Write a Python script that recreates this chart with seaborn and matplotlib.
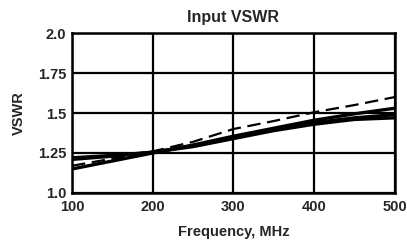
"""Input VSWR vs frequency"""
import numpy as np
import pandas as pd
import matplotlib
matplotlib.use("Agg")
import matplotlib.pyplot as plt
import seaborn as sns

freq = [100, 150, 200, 250, 300, 350, 400, 450, 500]
vswr_a = [1.22, 1.235, 1.255, 1.29, 1.34, 1.39, 1.43, 1.46, 1.47]
vswr_b = [1.21, 1.23, 1.255, 1.295, 1.345, 1.395, 1.44, 1.47, 1.49]
vswr_c = [1.15, 1.20, 1.25, 1.30, 1.355, 1.405, 1.455, 1.495, 1.53]
vswr_dash = [1.17, 1.215, 1.26, 1.32, 1.40, 1.45, 1.505, 1.55, 1.60]

sns.set_style("white")
plt.rcParams["font.family"] = ["Liberation Sans", "DejaVu Sans"]
plt.rcParams["font.weight"] = "bold"

fig = plt.figure(figsize=(4.07, 2.40), dpi=100)
ax = fig.add_axes([0.177, 0.196, 0.793, 0.666])

for ys in (vswr_a, vswr_b, vswr_c):
    sns.lineplot(x=freq, y=ys, ax=ax, color="black", linewidth=2.4)
sns.lineplot(x=freq, y=vswr_dash, ax=ax, color="black", linewidth=1.6,
             linestyle=(0, (6, 3)))

ax.set_xlim(100, 500)
ax.set_ylim(1.0, 2.0)
ax.set_xticks([100, 200, 300, 400, 500])
ax.set_yticks([1.0, 1.25, 1.5, 1.75, 2.0])
ax.set_yticklabels(["1.0", "1.25", "1.5", "1.75", "2.0"])
ax.grid(True, color="black", linewidth=1.6)
for s in ax.spines.values():
    s.set_color("black")
    s.set_linewidth(1.8)
ax.tick_params(axis="x", length=0, labelsize=10.5, pad=5)
ax.tick_params(axis="y", length=0, labelsize=10.5, pad=4)
for lbl in ax.get_xticklabels() + ax.get_yticklabels():
    lbl.set_fontweight("bold")

ax.set_title("Input VSWR", fontsize=11.5, fontweight="bold", pad=8)
ax.set_xlabel("Frequency, MHz", fontsize=10.5, fontweight="bold", labelpad=8)
ax.set_ylabel("VSWR", fontsize=10.5, fontweight="bold", labelpad=9)

fig.savefig("out.png", dpi=100)
plt.close()
